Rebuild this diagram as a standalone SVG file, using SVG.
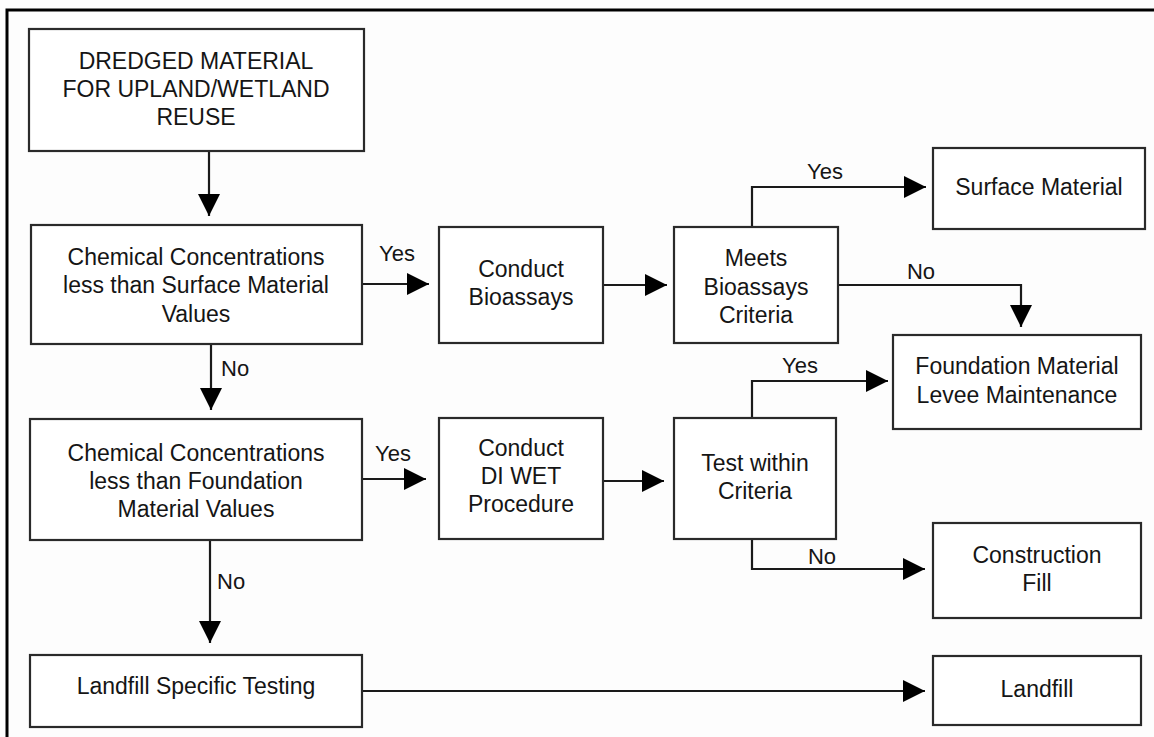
<svg xmlns="http://www.w3.org/2000/svg" width="1154" height="737" viewBox="0 0 1154 737">
<style>
.box{fill:#fff;stroke:#2a2a2a;stroke-width:2.2}
.t{font-family:"Liberation Sans",Arial,sans-serif;font-size:23px;fill:#151515;text-anchor:middle}
.lbl{font-family:"Liberation Sans",Arial,sans-serif;font-size:22px;fill:#151515}
.c{fill:none;stroke:#1a1a1a;stroke-width:2.2}
</style>
<defs>
<marker id="ah" markerUnits="userSpaceOnUse" markerWidth="22" markerHeight="22" refX="22" refY="11" orient="auto">
<path d="M0 0 L22 11 L0 22 Z" fill="#000"/>
</marker>
</defs>
<rect x="0" y="0" width="1154" height="737" fill="#fdfdfd"/>
<path d="M7 737 V10 H1154" fill="none" stroke="#000" stroke-width="3"/>
<g id="connectors">
<path class="c" d="M209 151 V216" marker-end="url(#ah)"/>
<path class="c" d="M362 284 H429" marker-end="url(#ah)"/>
<path class="c" d="M603 285 H667" marker-end="url(#ah)"/>
<path class="c" d="M752 227 V187 H926" marker-end="url(#ah)"/>
<path class="c" d="M838 285 H1021 V327" marker-end="url(#ah)"/>
<path class="c" d="M211 344 V410" marker-end="url(#ah)"/>
<path class="c" d="M362 479 H426" marker-end="url(#ah)"/>
<path class="c" d="M603 481 H664" marker-end="url(#ah)"/>
<path class="c" d="M752 418 V381 H888" marker-end="url(#ah)"/>
<path class="c" d="M752 539 V569 H925" marker-end="url(#ah)"/>
<path class="c" d="M210 540 V643" marker-end="url(#ah)"/>
<path class="c" d="M362 691 H925" marker-end="url(#ah)"/>
<text class="lbl" x="397" y="261" text-anchor="middle">Yes</text>
<text class="lbl" x="221" y="376">No</text>
<text class="lbl" x="825" y="179" text-anchor="middle">Yes</text>
<text class="lbl" x="921" y="279" text-anchor="middle">No</text>
<text class="lbl" x="800" y="373" text-anchor="middle">Yes</text>
<text class="lbl" x="393" y="461" text-anchor="middle">Yes</text>
<text class="lbl" x="217" y="589">No</text>
<text class="lbl" x="822" y="564" text-anchor="middle">No</text>
</g>
<g id="n-dredged">
<rect class="box" x="29" y="29" width="335" height="122"/>
<text class="t" x="196" y="69">DREDGED MATERIAL</text>
<text class="t" x="196" y="97">FOR UPLAND/WETLAND</text>
<text class="t" x="196" y="125">REUSE</text>
</g>
<g id="n-chem-surface">
<rect class="box" x="31" y="225" width="331" height="119"/>
<text class="t" x="196" y="265">Chemical Concentrations</text>
<text class="t" x="196" y="293">less than Surface Material</text>
<text class="t" x="196" y="322">Values</text>
</g>
<g id="n-bioassays">
<rect class="box" x="439" y="227" width="164" height="116"/>
<text class="t" x="521" y="277">Conduct</text>
<text class="t" x="521" y="305">Bioassays</text>
</g>
<g id="n-meets">
<rect class="box" x="674" y="227" width="164" height="116"/>
<text class="t" x="756" y="266">Meets</text>
<text class="t" x="756" y="295">Bioassays</text>
<text class="t" x="756" y="323">Criteria</text>
</g>
<g id="n-surface">
<rect class="box" x="933" y="148" width="212" height="81"/>
<text class="t" x="1039" y="195">Surface Material</text>
</g>
<g id="n-foundation">
<rect class="box" x="893" y="335" width="248" height="94"/>
<text class="t" x="1017" y="374">Foundation Material</text>
<text class="t" x="1017" y="403">Levee Maintenance</text>
</g>
<g id="n-chem-foundation">
<rect class="box" x="30" y="419" width="332" height="121"/>
<text class="t" x="196" y="461">Chemical Concentrations</text>
<text class="t" x="196" y="489">less than Foundation</text>
<text class="t" x="196" y="517">Material Values</text>
</g>
<g id="n-diwet">
<rect class="box" x="439" y="418" width="164" height="121"/>
<text class="t" x="521" y="456">Conduct</text>
<text class="t" x="521" y="484">DI WET</text>
<text class="t" x="521" y="512">Procedure</text>
</g>
<g id="n-test">
<rect class="box" x="674" y="418" width="162" height="121"/>
<text class="t" x="755" y="471">Test within</text>
<text class="t" x="755" y="499">Criteria</text>
</g>
<g id="n-construction">
<rect class="box" x="933" y="523" width="208" height="95"/>
<text class="t" x="1037" y="563">Construction</text>
<text class="t" x="1037" y="591">Fill</text>
</g>
<g id="n-landfill-testing">
<rect class="box" x="30" y="655" width="332" height="72"/>
<text class="t" x="196" y="694">Landfill Specific Testing</text>
</g>
<g id="n-landfill">
<rect class="box" x="933" y="656" width="208" height="69"/>
<text class="t" x="1037" y="697">Landfill</text>
</g>
</svg>
